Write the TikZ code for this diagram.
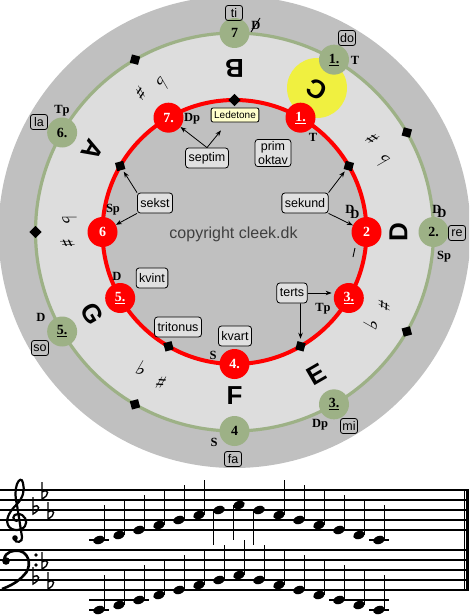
\documentclass[tikz,border=0pt]{standalone}
\usepackage{fontspec}
\setmainfont{Liberation Serif}
\newfontfamily\arialf{Liberation Sans}
\newfontfamily\dejaf{DejaVu Sans}
\usetikzlibrary{calc,arrows.meta}
\definecolor{outergray}{RGB}{192,192,192}
\definecolor{ringgray}{RGB}{221,221,221}
\definecolor{sage}{RGB}{157,177,134}
\definecolor{sunyellow}{RGB}{240,240,64}
\definecolor{boxfill}{RGB}{224,224,224}
\definecolor{ledefill}{RGB}{255,255,204}
\definecolor{copygray}{RGB}{64,64,64}
\tikzset{
 rednode/.style={circle, fill=red, minimum size=30pt, inner sep=0pt, text=white, font=\fontsize{14}{14}\selectfont\bfseries},
 greennode/.style={circle, fill=sage, minimum size=30pt, inner sep=0pt, text=black, font=\fontsize{14}{14}\selectfont\bfseries},
 fnlabel/.style={font=\fontsize{12.5}{12.5}\selectfont\bfseries, inner sep=0pt},
 bigletter/.style={font=\arialf\fontsize{26}{26}\selectfont\bfseries, inner sep=0pt},
 ibox/.style={draw=black, rounded corners=3pt, fill=boxfill, font=\arialf\fontsize{12.5}{14}\selectfont, inner xsep=3pt, inner ysep=2pt, minimum height=20pt, align=center, line width=0.8pt},
 sbox/.style={draw=black, rounded corners=2.5pt, font=\arialf\fontsize{12.5}{12.5}\selectfont, inner sep=0pt, minimum width=17pt, minimum height=15pt, line width=0.8pt},
 dia/.style={fill=black, inner sep=0pt, minimum size=8.5pt, rectangle},
 arr/.style={-{Stealth[length=6pt,width=4.5pt]}, line width=0.8pt},
 acc/.style={font=\dejaf\bfseries\fontsize{20}{20}\selectfont, inner sep=0pt},
 kflat/.pic={\draw[line width=1.4pt] (0,13) -- (0,-4) .. controls (8,0) and (7,7) .. (0,3);},
 staffline/.style={line width=1.5pt},
}
\begin{document}
\begin{tikzpicture}[x=1pt,y=1pt]
\useasboundingbox (0,0) rectangle (469,-615);
\fill[white] (0,0) rectangle (469,-615);
\coordinate (O) at (234.5,-232);
\begin{scope}
\clip (0,0) rectangle (469,-615);
\fill[outergray] (O) circle (236pt);
\end{scope}
\fill[ringgray] (O) circle (199pt);
\fill[outergray] (O) circle (132pt);
\fill[sunyellow] (317,-88) circle (30pt);
\draw[sage, line width=3.2pt] (O) circle (199pt);
\draw[red, line width=4pt] (O) circle (132pt);
% diamonds
\foreach \a/\n in {30/30,90/90,150/150,-60/m60,-120/m120}
  \node[dia, rotate=\a+45] (rd\n) at ($(O)+(\a:132)$) {};
\foreach \a/\n in {30/30,120/120,180/180,-30/m30,-120/m120}
  \node[dia, rotate=\a+45] (gd\n) at ($(O)+(\a:199)$) {};
% big letters
\foreach \a/\l in {90/B,60/C,0/D,-60/E,-90/F,-150/G,150/A}
  \node[bigletter, rotate=\a+90] (L\l) at ($(O)+(\a:164)$) {\l};
% accidentals
\foreach \p/\n in {30/a,120/b,180/c,-30/d,-120/e}{
  \node[acc, rotate=\p+90] (sh\n) at ($(O)+(\p+4:167)$) {♯};
  \node[acc, rotate=\p+90] (fl\n) at ($(O)+(\p-4:165)$) {♭};
}
% red nodes
\node[rednode] (r1) at ($(O)+(60:132)$) {\underline{1.}};
\node[rednode] (r2) at ($(O)+(0:132)$) {2};
\node[rednode] (r3) at ($(O)+(-30:132)$) {\underline{3.}};
\node[rednode] (r4) at ($(O)+(-90:132)$) {4.};
\node[rednode] (r5) at ($(O)+(-150:132)$) {\underline{5.}};
\node[rednode] (r6) at ($(O)+(180:132)$) {6};
\node[rednode] (r7) at ($(O)+(120:132)$) {7.};
% green nodes
\node[greennode] (g7) at ($(O)+(90:199)$) {7};
\node[greennode] (g1) at ($(O)+(60:199)$) {\underline{1.}};
\node[greennode] (g2) at ($(O)+(0:199)$) {2.};
\node[greennode] (g3) at ($(O)+(-60:199)$) {\underline{3.}};
\node[greennode] (g4) at ($(O)+(-90:199)$) {4};
\node[greennode] (g5) at ($(O)+(-150:199)$) {\underline{5.}};
\node[greennode] (g6) at ($(O)+(150:199)$) {6.};
% function labels green
\node[fnlabel] (fg7) at (256,-25) {D};
\draw[line width=0.9pt] (251,-32) -- (260,-18);
\node[fnlabel] (fg1) at (355,-60) {T};
\node[fnlabel] (fg2a) at (437,-209) {D};
\node[fnlabel] (fg2b) at (442,-213) {D};
\node[fnlabel] (fg2c) at (444,-257) {Sp};
\node[fnlabel] (fg3) at (320,-425) {Dp};
\node[fnlabel] (fg4) at (214,-442) {S};
\node[fnlabel] (fg5) at (41,-317) {D};
\node[fnlabel] (fg6) at (62,-111) {Tp};
% function labels red
\node[fnlabel] (fr1) at (313,-137) {T};
\node[fnlabel] (fr2a) at (350,-209) {D};
\node[fnlabel] (fr2b) at (355,-214) {D};
\draw[line width=0.9pt] (353,-257) -- (355,-248);
\node[fnlabel] (fr3) at (323,-309) {Tp};
\node[fnlabel] (fr4) at (213,-355) {S};
\node[fnlabel] (fr5) at (117,-276) {D};
\node[fnlabel] (fr6) at (113,-210) {Sp};
\node[fnlabel] (fr7) at (192,-119) {Dp};
% solfege boxes
\node[sbox] (sti) at (234,-13) {ti};
\node[sbox] (sdo) at (347,-38) {do};
\node[sbox] (sre) at (457,-233) {re};
\node[sbox] (smi) at (349,-426) {mi};
\node[sbox] (sfa) at (233,-459) {fa};
\node[sbox] (sso) at (40,-348) {so};
\node[sbox] (sla) at (39,-122) {la};
% interval boxes
\node[ibox, fill=ledefill, font=\arialf\fontsize{10}{10}\selectfont, minimum height=14pt, inner ysep=1pt, rounded corners=2pt] (lede) at (235,-115) {Ledetone};
\node[ibox] (septim) at (207,-158) {septim};
\node[ibox] (prim) at (273,-153) {prim\\oktav};
\node[ibox] (sekst) at (155,-203) {sekst};
\node[ibox] (sekund) at (305,-203) {sekund};
\node[ibox] (kvint) at (152,-278) {kvint};
\node[ibox] (tritonus) at (178,-327) {tritonus};
\node[ibox] (kvart) at (235,-336) {kvart};
\node[ibox] (terts) at (292,-293) {terts};
\node[font=\arialf\fontsize{16}{16}\selectfont, text=copygray, inner sep=0pt] (copy) at (233.5,-234) {copyright cleek.dk};
% arrows
\draw[arr] (septim.north) -- (r7);
\draw[arr] (septim.north) -- ([xshift=-14pt,yshift=-8pt]lede.south);
\draw[arr, shorten >=2pt] (sekst.north west) -- (rd150);
\draw[arr] (sekst.south west) -- (r6);
\draw[arr, shorten >=2pt] (sekund.north east) -- (rd30);
\draw[arr] (sekund.south east) -- (r2);
\draw[arr, shorten >=2pt] (terts.east) -- (terts.east -| r3.west);
\draw[arr, shorten >=3pt] (terts.south -| rdm60) -- (rdm60);
% staves
\foreach \y in {490,500,510,520,530,550,560,570,580,590}
  \draw[staffline] (0,-\y) -- (466,-\y);
\draw[line width=1.2pt] (464.5,-489.3) -- (464.5,-590.7);
\draw[line width=2.8pt] (467.6,-489.3) -- (467.6,-590.7);
% treble clef
\begin{scope}[shift={(15,-520)}]
\draw[line width=2.2pt, line cap=round] (2,-1) .. controls (-3,-1) and (-3,6) .. (3,6)
  .. controls (10,6) and (13,-2) .. (10,-6)
  .. controls (7,-11) and (-4,-12) .. (-7,-5)
  .. controls (-10,2) and (-4,10) .. (2,16)
  .. controls (8,22) and (10,30) .. (8,37)
  .. controls (7,42) and (4,41) .. (2,36)
  .. controls (0,30) and (0,24) .. (2,15)
  -- (7,-17)
  .. controls (8,-22) and (1,-24) .. (-1,-19);
\fill (0,-18) circle (2.8pt);
\end{scope}
% bass clef
\fill (6,-561) circle (3.8pt);
\draw[line width=2.6pt] (4,-560) .. controls (5,-551) and (14,-550) .. (20,-551)
  .. controls (31,-554) and (31,-569) .. (24,-575)
  .. controls (18,-582) and (10,-586) .. (2,-589);
\fill (36,-555) circle (1.9pt);
\fill (36,-565) circle (1.9pt);
% key signatures
\pic at (33,-510) {kflat};
\pic at (42,-495) {kflat};
\pic at (48,-515) {kflat};
\pic at (33,-580) {kflat};
\pic at (42,-565) {kflat};
\pic at (48,-585) {kflat};
% notes
\foreach \k/\s in {0/0,1/1,2/2,3/3,4/4,5/5,6/6,7/7,8/6,9/5,10/4,11/3,12/2,13/1,14/0}{
  \pgfmathsetmacro\xx{99+20*\k}
  \pgfmathsetmacro\ty{-540+5*\s}
  \pgfmathsetmacro\by{-610+5*\s}
  \fill[rotate around={20:(\xx,\ty)}] (\xx,\ty) ellipse [x radius=6, y radius=4];
  \fill[rotate around={20:(\xx,\by)}] (\xx,\by) ellipse [x radius=6, y radius=4];
  \ifnum\s>5
    \draw[line width=1pt] (\xx-5.3,\ty) -- (\xx-5.3,\ty-35);
  \else
    \draw[line width=1pt] (\xx+5.3,\ty) -- (\xx+5.3,\ty+35);
  \fi
  \draw[line width=1pt] (\xx+5.3,\by) -- (\xx+5.3,\by+35);
  \ifnum\s=0
    \draw[line width=1.5pt] (\xx-10,-540) -- (\xx+10,-540);
    \draw[line width=1.5pt] (\xx-10,-610) -- (\xx+10,-610);
  \fi
  \ifnum\s<3
    \draw[line width=1.5pt] (\xx-10,-600) -- (\xx+10,-600);
  \fi
}
\end{tikzpicture}
\end{document}
